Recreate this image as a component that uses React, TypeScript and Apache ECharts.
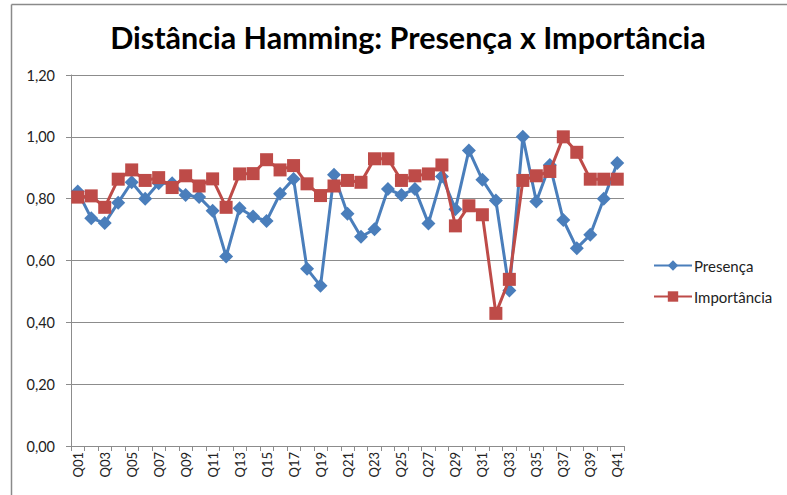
import React, { useEffect, useRef } from "react";
import * as echarts from "echarts";

const categories = [
  "Q01","Q02","Q03","Q04","Q05","Q06","Q07","Q08","Q09","Q10",
  "Q11","Q12","Q13","Q14","Q15","Q16","Q17","Q18","Q19","Q20",
  "Q21","Q22","Q23","Q24","Q25","Q26","Q27","Q28","Q29","Q30",
  "Q31","Q32","Q33","Q34","Q35","Q36","Q37","Q38","Q39","Q40","Q41",
];

const presenca = [
  0.823, 0.737, 0.721, 0.787, 0.853, 0.80, 0.85, 0.85, 0.812, 0.805,
  0.761, 0.613, 0.769, 0.742, 0.728, 0.816, 0.864, 0.573, 0.518, 0.877,
  0.751, 0.677, 0.701, 0.831, 0.812, 0.831, 0.72, 0.872, 0.766, 0.956,
  0.861, 0.794, 0.503, 1.0, 0.791, 0.909, 0.731, 0.64, 0.683, 0.80, 0.915,
];

const importancia = [
  0.805, 0.809, 0.772, 0.863, 0.893, 0.859, 0.868, 0.836, 0.874, 0.841,
  0.864, 0.772, 0.88, 0.881, 0.926, 0.893, 0.907, 0.848, 0.81, 0.841,
  0.859, 0.853, 0.929, 0.929, 0.859, 0.874, 0.88, 0.909, 0.712, 0.777,
  0.748, 0.429, 0.539, 0.859, 0.874, 0.888, 1.0, 0.95, 0.863, 0.863, 0.863,
];

const seriesNames = ["Presença", "Importância"];
const titleText = "Distância Hamming: Presença x Importância";

export default function App() {
  const ref = useRef<HTMLDivElement>(null);
  useEffect(() => {
    document.body.style.margin = "0";
    if (!ref.current) return;
    const chart = echarts.init(ref.current, null, { renderer: "svg" });
    const font = "Lato, 'Noto Sans', sans-serif";
    chart.setOption({
      animation: false,
      backgroundColor: "#ffffff",
      textStyle: { fontFamily: font },
      title: {
        text: titleText,
        left: 403,
        textAlign: "center",
        top: 16,
        textStyle: { fontSize: 30.5, fontWeight: "bold", color: "#000", fontFamily: font },
      },
      graphic: [
        { type: "line", shape: { x1: 11.5, y1: 4.5, x2: 11.5, y2: 495 }, style: { stroke: "#8a8a8a", lineWidth: 1.5 } },
        { type: "line", shape: { x1: 11.5, y1: 4.5, x2: 787, y2: 4.5 }, style: { stroke: "#8a8a8a", lineWidth: 1.5 } },
      ],
      legend: {
        orient: "vertical",
        left: 648,
        top: 253,
        itemWidth: 38,
        itemHeight: 13,
        itemGap: 16,
        textStyle: { fontSize: 15, color: "#222", fontFamily: font, padding: [0, 0, 0, -3] },
        data: seriesNames,
      },
      grid: { left: 71, right: 163, top: 75, bottom: 49, containLabel: false },
      xAxis: {
        type: "category",
        data: categories,
        boundaryGap: true,
        axisLine: { lineStyle: { color: "#8c8c8c", width: 1 } },
        axisTick: { show: true, interval: 0, length: 5, lineStyle: { color: "#8c8c8c" } },
        axisLabel: { interval: 1, rotate: 90, fontSize: 13, color: "#222", margin: 6, fontFamily: font },
      },
      yAxis: {
        type: "value",
        min: 0,
        max: 1.2,
        interval: 0.2,
        axisLine: { show: true, lineStyle: { color: "#8c8c8c", width: 1 } },
        axisTick: { show: true, length: 5, lineStyle: { color: "#8c8c8c" } },
        splitLine: { lineStyle: { color: "#8c8c8c", width: 1 } },
        axisLabel: {
          fontSize: 14.5,
          color: "#222",
          margin: 16,
          fontFamily: font,
          formatter: (v: number) => v.toFixed(2).replace(".", ","),
        },
      },
      series: [
        {
          name: seriesNames[0],
          type: "line",
          data: presenca,
          symbol: "diamond",
          symbolSize: 14,
          showAllSymbol: true,
          itemStyle: { color: "#4a7ebb" },
          lineStyle: { color: "#4a7ebb", width: 3 },
          z: 2,
        },
        {
          name: seriesNames[1],
          type: "line",
          data: importancia,
          symbol: "rect",
          symbolSize: 13,
          showAllSymbol: true,
          itemStyle: { color: "#be4b48" },
          lineStyle: { color: "#be4b48", width: 3 },
          z: 3,
        },
      ],
    });
    return () => chart.dispose();
  }, []);
  return <div ref={ref} style={{ width: 787, height: 495 }} />;
}
